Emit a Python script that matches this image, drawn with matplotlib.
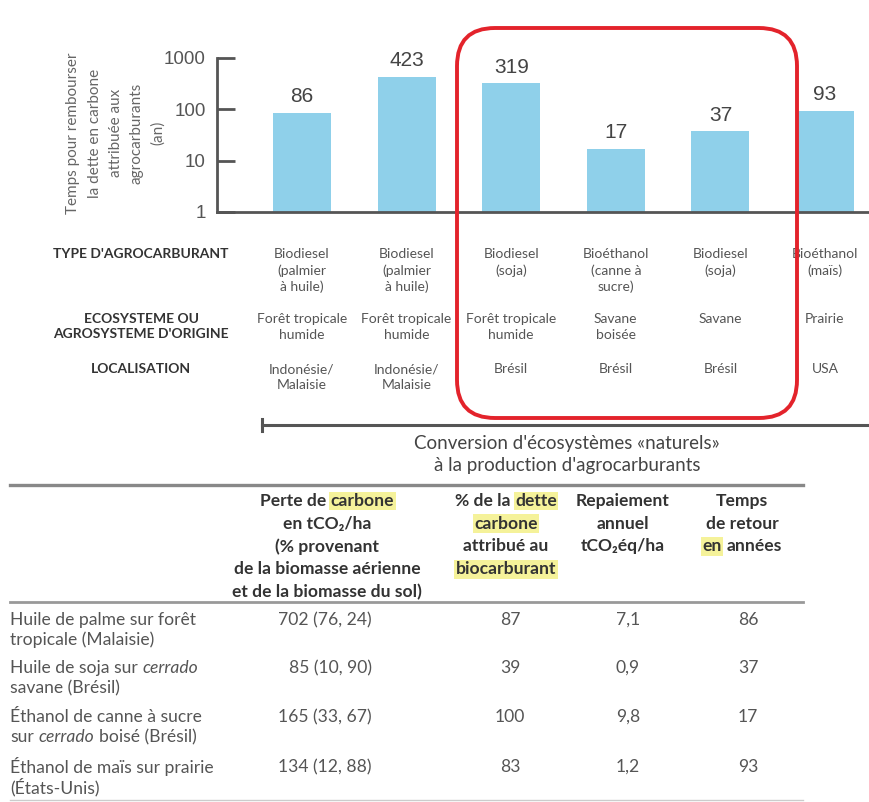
import re
import numpy as np
import matplotlib
matplotlib.use("Agg")
import matplotlib.pyplot as plt
from matplotlib import transforms
from matplotlib.patches import FancyBboxPatch

# ---- donnees du graphique (temps de retour, an)
valeurs = [86, 423, 319, 17, 37, 93]
types = ["Biodiesel\n(palmier\nà huile)", "Biodiesel\n(palmier\nà huile)", "Biodiesel\n(soja)",
         "Bioéthanol\n(canne à\nsucre)", "Biodiesel\n(soja)", "Bioéthanol\n(maïs)"]
ecosystemes = ["Forêt tropicale\nhumide", "Forêt tropicale\nhumide", "Forêt tropicale\nhumide",
               "Savane\nboisée", "Savane", "Prairie"]
localisations = ["Indonésie/\nMalaisie", "Indonésie/\nMalaisie", "Brésil", "Brésil", "Brésil", "USA"]
yticks = [1, 10, 100, 1000]

# ---- donnees du tableau
lignes_tab = [["Huile de palme sur forêt", "tropicale (Malaisie)"],
              ["Huile de soja sur *cerrado*", "savane (Brésil)"],
              ["Éthanol de canne à sucre", "sur *cerrado* boisé (Brésil)"],
              ["Éthanol de maïs sur prairie", "(États-Unis)"]]
perte = ["702 (76, 24)", "85 (10, 90)", "165 (33, 67)", "134 (12, 88)"]
dette_pct = ["87", "39", "100", "83"]
repaiement = ["7,1", "0,9", "9,8", "1,2"]
retour = ["86", "37", "17", "93"]
entetes = [["Perte de [carbone]", "en tCO₂/ha", "(% provenant", "de la biomasse aérienne",
            "et de la biomasse du sol)"],
           ["% de la [dette]", "[carbone]", "attribué au", "[biocarburant]"],
           ["Repaiement", "annuel", "tCO₂éq/ha"],
           ["Temps", "de retour", "[en] années"]]

FONT = ["Lato", "DejaVu Sans"]
GRIS = "#555555"
BLEU = "#8fd0ea"
JAUNE = "#f5f29a"

fig = plt.figure(figsize=(8.69, 8.02), dpi=100)

# axe des barres (echelle log)
W, H = 869.0, 802.0
ax = fig.add_axes([217 / W, 1 - 212 / H, 1 - 217 / W, 154 / H])
x = np.arange(len(valeurs))
bars = ax.bar(x, valeurs, width=0.555, color=BLEU, zorder=2)
ax.set_yscale("log")
ax.set_ylim(1, 1000)
ax.set_xlim(-0.8126, 5.4207)
ax.set_yticks(yticks)
ax.set_yticklabels([str(v) for v in yticks], fontsize=13.5, color=GRIS, family="Liberation Sans")
ax.yaxis.set_minor_locator(matplotlib.ticker.NullLocator())
ax.tick_params(axis="y", direction="in", length=13, width=2, color=GRIS, pad=8)
ax.set_xticks([])
for s in ["top", "right"]:
    ax.spines[s].set_visible(False)
for s in ["left", "bottom"]:
    ax.spines[s].set_color(GRIS)
    ax.spines[s].set_linewidth(2)
ax.bar_label(bars, padding=5, fontsize=15, color="#444444", family="Liberation Sans")

# axe de superposition en pixels
ov = fig.add_axes([0, 0, 1, 1])
ov.set_xlim(0, W)
ov.set_ylim(H, 0)
ov.axis("off")

ov.text(116, 133, "Temps pour rembourser\nla dette en carbone\nattribuée aux\nagrocarburants\n(an)",
        rotation=90, ha="center", va="center", multialignment="center",
        fontsize=11, color="#666666", family=FONT, linespacing=1.65)

# lignes descriptives sous les barres
tr = transforms.blended_transform_factory(ax.transData, ov.transData)
for lab, yy in [("TYPE D'AGROCARBURANT", 248), ("ECOSYSTEME OU\nAGROSYSTEME D'ORIGINE", 313),
                ("LOCALISATION", 363)]:
    ov.text(141, yy, lab, ha="center", va="top", multialignment="center", fontsize=10,
            fontweight="bold", color="#333333", family=FONT, linespacing=1.35)
for rangee, yy in [(types, 248), (ecosystemes, 313), (localisations, 363)]:
    for i, s in enumerate(rangee):
        ov.text(x[i], yy, s, transform=tr, ha="center", va="top", multialignment="center",
                fontsize=10, color=GRIS, family=FONT, linespacing=1.38)

# cadre rouge
ov.add_patch(FancyBboxPatch((457, 28), 340, 390, boxstyle="round,pad=0,rounding_size=38",
                            ec="#e3232b", fc="none", lw=2.8, zorder=5))

# accolade "Conversion"
ov.plot([262, W], [425, 425], color=GRIS, lw=2.2)
ov.plot([262, 262], [419, 431], color=GRIS, lw=2.2)
ov.text(567, 444, "Conversion d'écosystèmes «naturels»", ha="center", va="center",
        fontsize=13.5, color="#444444", family=FONT)
ov.text(567, 465, "à la production d'agrocarburants", ha="center", va="center",
        fontsize=13.5, color="#444444", family=FONT)

renderer = fig.canvas.get_renderer()


def ligne(x0, y0, s, ha="left", **kw):
    # texte avec morceaux en italique (*...*) ou surlignes ([...])
    parts = [p for p in re.split(r"(\*[^*]+\*|\[[^\]]+\])", s) if p.strip()]
    first = None
    prev = None
    gap = 0.26 * kw.get("fontsize", 10)
    for p in parts:
        style = "normal"
        bbox = None
        if p.startswith("*"):
            p = p[1:-1]
            style = "italic"
        elif p.startswith("["):
            p = p[1:-1]
            bbox = dict(boxstyle="square,pad=0.08", fc=JAUNE, ec="none")
        p = p.strip()
        if prev is None:
            prev = ov.text(x0, y0, p, ha="left", va="center", style=style, bbox=bbox, **kw)
            first = prev
        else:
            prev = ov.annotate(p, xy=(1, 0), xycoords=prev, xytext=(gap, 0),
                               textcoords="offset points", ha="left", va="bottom",
                               style=style, bbox=bbox, **kw)
    if ha != "left":
        w = prev.get_window_extent(renderer).x1 - first.get_window_extent(renderer).x0
        first.set_x(x0 - (w / 2 if ha == "center" else w))
    return first


# tableau
ov.plot([10, 803], [485, 485], color="#888888", lw=2.4)
ov.plot([10, 803], [602, 602], color="#999999", lw=2)
ov.plot([10, 803], [800, 800], color="#cccccc", lw=1)

col_x = [327, 506, 623, 742]
for cx, col in zip(col_x, entetes):
    for k, s in enumerate(col):
        ligne(cx, 501 + 22.7 * k, s, ha="center", fontsize=12.6, fontweight="bold",
              color="#333333", family=FONT)

row_y = [620, 668, 717, 767]
for r, yy in enumerate(row_y):
    for k, s in enumerate(lignes_tab[r]):
        ligne(10, yy + 20 * k, s, fontsize=12.6, color=GRIS, family=FONT)
    ov.text(372, yy, perte[r], ha="right", va="center", fontsize=12.6, color=GRIS, family=FONT)
    ov.text(510, yy, dette_pct[r], ha="center", va="center", fontsize=12.6, color=GRIS, family=FONT)
    ov.text(628, yy, repaiement[r], ha="center", va="center", fontsize=12.6, color=GRIS, family=FONT)
    ov.text(748, yy, retour[r], ha="center", va="center", fontsize=12.6, color=GRIS, family=FONT)

fig.savefig("out.png", dpi=100)
